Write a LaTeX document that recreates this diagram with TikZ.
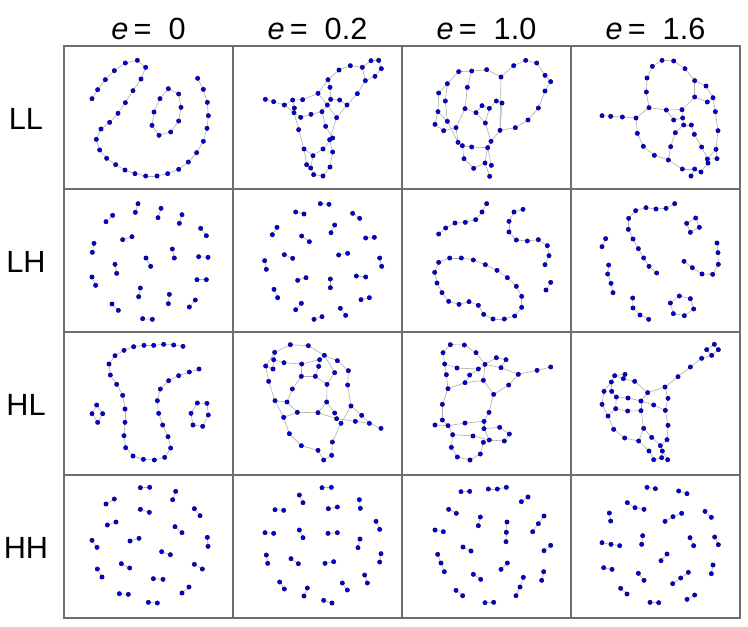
\documentclass[tikz,border=0pt]{standalone}
\usepackage{fontspec}
\setmainfont{Liberation Sans}
\tikzset{
 link/.style={draw={rgb,255:red,175;green,175;blue,175}, line width=0.45pt},
 netdot/.style={circle, inner sep=0pt, minimum size=3.3pt, fill={rgb,255:red,0;green,0;blue,225}, draw={rgb,255:red,0;green,0;blue,80}, line width=0.3pt},
 gridline/.style={draw={rgb,255:red,110;green,110;blue,110}, line width=0.9pt},
 lab/.style={font=\fontsize{23}{26}\selectfont, inner sep=0pt, anchor=base},
 cropunits/.style={x=0.25pt,y=-0.25pt}
}
\newcommand\defpts[2]{\foreach \x/\y [count=\k] in {#2}{\coordinate (#1-\k) at (\x,\y);\xdef\lastk{\k}}}
\newcommand\linkpts[2]{\foreach \x/\y [count=\k] in {#2}{\ifnum\k>1 \pgfmathtruncatemacro\kp{\k-1}\draw[link] (#1-\kp) -- (#1-\k);\fi}}
\newcommand\dotpts[2]{\foreach \x/\y [count=\k] in {#2}{\node[netdot] at (#1-\k) {};}}
\newcommand\chainpts[2]{\defpts{#1}{#2}\linkpts{#1}{#2}\dotpts{#1}{#2}}
\newcommand\looppts[2]{\defpts{#1}{#2}\draw[link] (#1-\lastk) -- (#1-1);\linkpts{#1}{#2}\dotpts{#1}{#2}}
\newcommand\netcell[3]{\foreach \n/\x/\y in {#2}{\coordinate (#1-\n) at (\x,\y);}\foreach \a/\b in {#3}{\draw[link] (#1-\a) -- (#1-\b);}\foreach \n/\x/\y in {#2}{\node[netdot] at (#1-\n) {};}}
\begin{document}
\begin{tikzpicture}[x=0.75pt,y=-0.75pt]
\useasboundingbox (0,0) rectangle (748,626);
\fill[white] (0,0) rectangle (748,626);
% grid
\draw[gridline] (64,46) rectangle (740,618);
\foreach \gx in {233,402,571} \draw[gridline] (\gx,46) -- (\gx,618);
\foreach \gy in {189,332,475} \draw[gridline] (64,\gy) -- (740,\gy);
% headers
\node[lab] (h1) at (148.5,39.5) {\textit{e}\,=\ \ 0};
\node[lab] (h2) at (317.5,39.5) {\textit{e}\,=\ \ 0.2};
\node[lab] (h3) at (486.5,39.5) {\textit{e}\,=\ \ 1.0};
\node[lab] (h4) at (655.5,39.5) {\textit{e}\,=\ \ 1.6};
\node[lab] (r1) at (26,129.5) {LL};
\node[lab] (r2) at (26,272.5) {LH};
\node[lab] (r3) at (26,415.5) {HL};
\node[lab] (r4) at (26,558.5) {HH};
% ---------- row LL ----------
\begin{scope}[shift={(64,46)},cropunits]
\chainpts{a1}{84/158,101/131,124/101,151/74,184/51,220/43,245/64,231/99,207/134,184/170,162/202,137/229,111/249,97/280,107/312,128/337,155/356,183/372,213/383,245/390,279/390,311/383,344/370,373/348,398/320,418/286,429/247,433/209,430/169,418/130,401/97}
\looppts{a2}{313/128,344/144,351/184,344/225,320/258,285/268,264/238,270/198,288/158}
\netcell{b}{1/604/160,2/629/167,3/661/177,4/686/162,5/716/161,6/691/186,7/690/200,8/710/214,9/741/205,10/774/197,11/762/142,12/792/101,13/798/124,14/800/160,15/827/162,16/790/177,17/849/177,18/818/215,19/825/72,20/859/59,21/895/64,22/921/44,23/944/43,24/952/68,25/933/91,26/904/104,27/880/143,28/785/241,29/806/276,30/797/281,31/806/318,32/704/251,33/720/309,34/747/329,35/777/309,36/728/356,37/740/366,38/749/386,39/777/390,40/798/363}
{1/2,2/3,3/4,4/5,5/11,4/6,3/7,6/7,7/8,8/9,9/10,10/16,11/12,11/16,12/19,19/20,20/21,21/22,22/23,23/24,24/25,25/26,21/26,26/27,27/17,12/13,13/14,14/15,15/17,14/16,16/18,17/18,18/30,10/28,28/29,29/30,30/31,7/32,32/33,33/34,34/35,35/29,33/36,36/37,34/37,37/38,38/39,39/40,40/31}
\end{scope}
\begin{scope}[shift={(402,46)},cropunits]
\netcell{c}{1/170/77,2/209/75,3/254/71,4/297/93,5/335/59,6/371/43,7/404/51,8/429/88,9/446/107,10/429/135,11/409/186,12/378/222,13/340/245,14/294/253,15/267/286,16/257/305,17/209/303,18/181/299,19/168/289,20/186/338,21/215/367,22/249/351,23/268/358,24/263/391,25/136/113,26/110/141,27/108/197,28/99/235,29/125/254,30/162/245,31/136/226,32/130/165,33/196/124,34/189/188,35/222/200,36/240/179,37/262/187,38/283/165,39/300/171,40/250/231}
{1/2,2/3,3/4,4/5,5/6,6/7,7/8,8/9,9/10,10/11,11/12,12/13,13/14,14/15,4/14,1/25,25/26,26/27,27/28,28/29,29/30,27/31,25/32,32/31,2/33,33/34,34/30,34/35,35/36,36/37,37/38,38/39,39/14,35/40,37/40,40/15,15/16,16/17,17/18,18/19,19/30,31/19,18/20,20/21,21/22,22/16,16/23,22/24}
\netcell{d}{1/600/209,2/626/211,3/661/213,4/702/216,5/741/185,6/733/138,7/735/96,8/751/61,9/780/43,10/815/45,11/849/68,12/878/104,13/912/120,14/933/155,15/940/197,16/948/254,17/942/310,18/945/338,19/916/339,20/918/351,21/897/378,22/878/369,23/867/390,24/841/369,25/799/342,26/757/328,27/724/301,28/706/262,29/793/192,30/840/191,31/878/153,32/916/168,33/815/222,34/842/216,35/845/237,36/868/237,37/820/260,38/877/265,39/806/302,40/899/303}
{1/2,2/3,3/4,4/5,5/6,6/7,7/8,8/9,9/10,10/11,11/12,12/13,13/14,14/15,15/16,16/17,17/18,18/19,17/19,19/20,20/21,21/22,22/23,22/24,24/25,25/26,26/27,27/28,28/4,5/29,29/30,30/31,31/12,31/32,32/14,30/34,29/33,33/34,34/35,35/36,36/38,38/40,40/19,35/37,37/39,39/25}
\end{scope}
% ---------- row LH ----------
\begin{scope}[shift={(64,189)},cropunits]
\chainpts{e1}{222/44,214/70}\chainpts{e2}{291/58,282/86}\chainpts{e3}{146/79,126/98}
\chainpts{e4}{354/77,346/103}\chainpts{e5}{410/118,427/140}\chainpts{e6}{176/152,204/143}
\chainpts{e7}{90/163,85/190}\chainpts{e8}{325/180,331/207}\chainpts{e9}{404/203,432/205}
\chainpts{e10}{246/207,260/232}\chainpts{e11}{153/226,158/253}\chainpts{e12}{84/264,95/289}
\chainpts{e13}{399/272,427/272}\chainpts{e14}{229/297,224/323}\chainpts{e15}{316/316,313/344}
\chainpts{e16}{144/345,163/364}\chainpts{e17}{394/333,376/354}\chainpts{e18}{236/389,265/391}
\chainpts{f1}{769/44,795/46}\chainpts{f2}{695/69,720/75}\chainpts{f3}{866/73,887/88}
\chainpts{f4}{639/115,625/137}\chainpts{f5}{812/108,801/131}\chainpts{f6}{713/141,736/158}
\chainpts{f7}{905/147,931/145}\chainpts{f8}{661/197,686/208}\chainpts{f9}{824/198,851/193}
\chainpts{f10}{602/215,607/241}\chainpts{f11}{947/207,953/232}\chainpts{f12}{701/274,726/266}
\chainpts{f13}{799/270,799/296}\chainpts{f14}{877/261,905/264}\chainpts{f15}{630/301,641/326}
\chainpts{f16}{891/332,916/326}\chainpts{f17}{712/343,695/362}\chainpts{f18}{829/358,845/379}
\chainpts{f19}{750/391,774/383}
\end{scope}
\begin{scope}[shift={(402,189)},cropunits]
\chainpts{g1}{110/135,131/117,159/102,190/100,221/92,240/69,254/44}
\chainpts{g2}{363/61,336/69,321/97,321/129,343/153,376/156,409/152,436/170,441/200,429/227}
\chainpts{g3}{446/280,432/303}
\looppts{g4}{110/220,143/207,178/207,214/213,250/227,285/244,316/266,343/292,359/322,359/355,338/381,307/390,273/390,245/376,229/349,201/338,171/346,140/337,120/311,105/282,98/250}
\chainpts{h1}{818/44,792/58,762/60,732/56,701/65,680/88,679/121,693/150,709/179,725/207,741/232,764/252}
\chainpts{h2}{611/149,600/173}
\chainpts{h3}{620/228,617/255,627/283,633/311}
\looppts{h4}{854/103,881/87,892/115,865/130}
\chainpts{h5}{945/162,948/191,949/226,932/256,900/255,871/236,846/217}
\chainpts{h6}{692/327,693/357,714/378,740/391}
\looppts{h7}{832/321,865/329,875/360,847/380,814/374,805/342}
\end{scope}
% ---------- row HL ----------
\begin{scope}[shift={(64,332)},cropunits]
\chainpts{i1}{357/43,329/39,299/37,269/40,240/40,209/44,180/55,153/71,135/96,139/129,158/157,176/190,183/231,183/271,180/311,185/347,207/372,238/382,271/384,302/376,320/348,312/314,296/279,284/244,280/206,289/171,314/146,344/131,376/120,405/111}
\looppts{i2}{98/219,116/245,101/271,84/245}
\looppts{i3}{400/213,429/214,433/249,416/283,387/279,381/244}
\netcell{j}{1/679/38,2/733/41,3/781/70,4/632/61,5/605/102,6/614/148,7/629/83,8/660/92,9/627/111,10/713/96,11/767/83,12/764/103,13/820/86,14/853/116,15/812/122,16/851/159,17/712/133,18/754/133,19/789/157,20/685/171,21/633/206,22/669/210,23/700/241,24/762/242,25/788/210,26/812/243,27/818/260,28/861/222,29/893/250,30/831/274,31/874/268,32/916/274,33/951/289,34/659/256,35/676/305,36/712/341,37/762/355,38/805/330,39/803/370,40/779/384}
{1/2,2/3,1/4,4/5,4/7,5/9,5/6,7/8,8/10,10/11,11/3,3/13,13/14,14/16,16/28,3/15,10/17,17/18,18/12,12/11,18/19,19/15,17/20,20/22,22/21,21/6,9/7,22/23,23/24,24/25,25/19,25/26,24/27,27/31,31/32,28/29,29/32,32/33,28/30,30/38,38/39,39/40,40/37,37/36,36/35,35/34,34/21,34/23}
\end{scope}
\begin{scope}[shift={(402,332)},cropunits]
\netcell{k}{1/145/38,2/187/39,3/222/62,4/123/62,5/128/96,6/133/128,7/165/108,8/229/111,9/203/129,10/249/97,11/283/77,12/312/83,13/297/107,14/349/127,15/405/115,16/446/105,17/320/159,18/275/187,19/244/145,20/189/152,21/138/170,22/121/217,23/121/264,24/99/279,25/138/281,26/189/273,27/246/268,28/261/241,29/246/290,30/293/286,31/322/306,32/307/327,33/262/324,34/244/331,35/213/312,36/152/308,37/148/346,38/166/375,39/204/384,40/235/366}
{1/2,2/3,3/10,1/4,4/5,5/6,5/7,7/8,8/10,10/11,11/12,12/13,10/13,13/14,14/15,15/16,14/17,17/18,18/19,19/10,19/20,20/9,9/8,20/21,6/21,21/22,22/23,23/25,24/25,25/26,26/27,27/28,28/18,27/29,29/30,30/31,31/32,32/33,33/29,33/34,34/40,40/39,39/38,38/37,37/36,36/25,35/36,35/33}
\netcell{l}{1/937/37,2/949/53,3/929/70,4/914/53,5/899/79,6/865/105,7/828/134,8/789/165,9/737/182,10/698/148,11/669/127,12/638/131,13/628/150,14/664/140,15/606/178,16/600/217,17/618/252,18/635/292,19/668/318,20/710/327,21/741/357,22/755/383,23/779/377,24/797/383,25/781/357,26/775/341,27/749/316,28/725/289,29/717/236,30/717/207,31/678/198,32/643/195,33/641/230,34/677/237,35/755/219,36/790/235,37/798/199,38/798/280,39/795/323,40/629/178}
{1/2,2/3,3/4,4/1,3/5,5/6,6/7,7/8,8/9,9/10,10/14,14/11,11/12,12/13,12/14,13/15,15/16,16/17,17/18,18/19,19/20,20/21,21/22,22/23,23/25,24/25,25/26,26/27,27/28,28/29,29/30,30/9,30/31,31/32,32/40,40/13,32/33,33/34,34/29,33/17,20/28,8/37,37/36,36/35,35/30,36/38,38/39,39/26}
\end{scope}
% ---------- row HH ----------
\begin{scope}[shift={(64,475)},cropunits]
\chainpts{m1}{229/38,257/37}\chainpts{m2}{151/72,126/87}\chainpts{m3}{335/49,326/74}
\chainpts{m4}{229/103,256/112}\chainpts{m5}{391/101,408/122}\chainpts{m6}{156/141,130/150}
\chainpts{m7}{333/155,354/173}\chainpts{m8}{84/196,99/217}\chainpts{m9}{198/198,225/190}
\chainpts{m10}{430/187,432/214}\chainpts{m11}{293/230,319/239}\chainpts{m12}{100/282,114/306}
\chainpts{m13}{172/266,197/279}\chainpts{m14}{391/268,415/282}\chainpts{m15}{268/311,297/313}
\chainpts{m16}{375/336,354/354}\chainpts{m17}{166/356,193/358}\chainpts{m18}{253/382,280/384}
\chainpts{n1}{774/38,802/37}\chainpts{n2}{706/60,717/83}\chainpts{n3}{886/74,889/100}
\chainpts{n4}{633/104,659/106}\chainpts{n5}{793/101,820/96}\chainpts{n6}{936/139,947/163}
\chainpts{n7}{603/173,629/175}\chainpts{n8}{706/165,717/188}\chainpts{n9}{792/175,820/173}
\chainpts{n10}{888/192,882/218}\chainpts{n11}{607/240,611/265}\chainpts{n12}{681/251,703/266}
\chainpts{n13}{783/265,809/260}\chainpts{n14}{951/236,947/261}\chainpts{n15}{902/300,910/324}
\chainpts{n16}{647/321,661/342}\chainpts{n17}{730/339,720/363}\chainpts{n18}{835/324,850/345}
\chainpts{n19}{779/376,804/384}
\end{scope}
\begin{scope}[shift={(402,475)},cropunits]
\chainpts{o1}{177/50,203/49}\chainpts{o2}{259/42,286/42,313/37}\chainpts{o3}{378/66,358/80}
\chainpts{o4}{140/103,163/115}\chainpts{o5}{235/126,229/152}\chainpts{o6}{315/141,313/172,312/200}
\chainpts{o7}{426/123,409/146,392/170}\chainpts{o8}{99/165,124/170}\chainpts{o9}{183/216,207/228}
\chainpts{o10}{446/211,426/227}\chainpts{o11}{107/238,117/264,127/290}\chainpts{o12}{316/264,297/283}
\chainpts{o13}{214/298,236/313}\chainpts{o14}{425/290,419/316}\chainpts{o15}{364/307,354/336,342/362}
\chainpts{o16}{162/346,182/362}\chainpts{o17}{249/383,275/382}
\chainpts{q1}{735/37,760/41}\chainpts{q2}{830/48,855/56}\chainpts{q3}{676/83,699/98,726/103}
\chainpts{q4}{622/114,626/138}\chainpts{q5}{839/115,813/125,789/139}\chainpts{q6}{909/109,928/127}
\chainpts{q7}{722/182,719/208}\chainpts{q8}{864/188,875/212}\chainpts{q9}{600/203,627/208,653/212}
\chainpts{q10}{938/186,949/209}\chainpts{q11}{795/237,777/257}\chainpts{q12}{605/278,630/283}
\chainpts{q13}{933/270,928/296}\chainpts{q14}{859/292,836/309,812/326}\chainpts{q15}{709/295,726/316}
\chainpts{q16}{656/340,675/357}\chainpts{q17}{878/360,855/373}\chainpts{q18}{744/382,770/383}
\end{scope}
\end{tikzpicture}
\end{document}
